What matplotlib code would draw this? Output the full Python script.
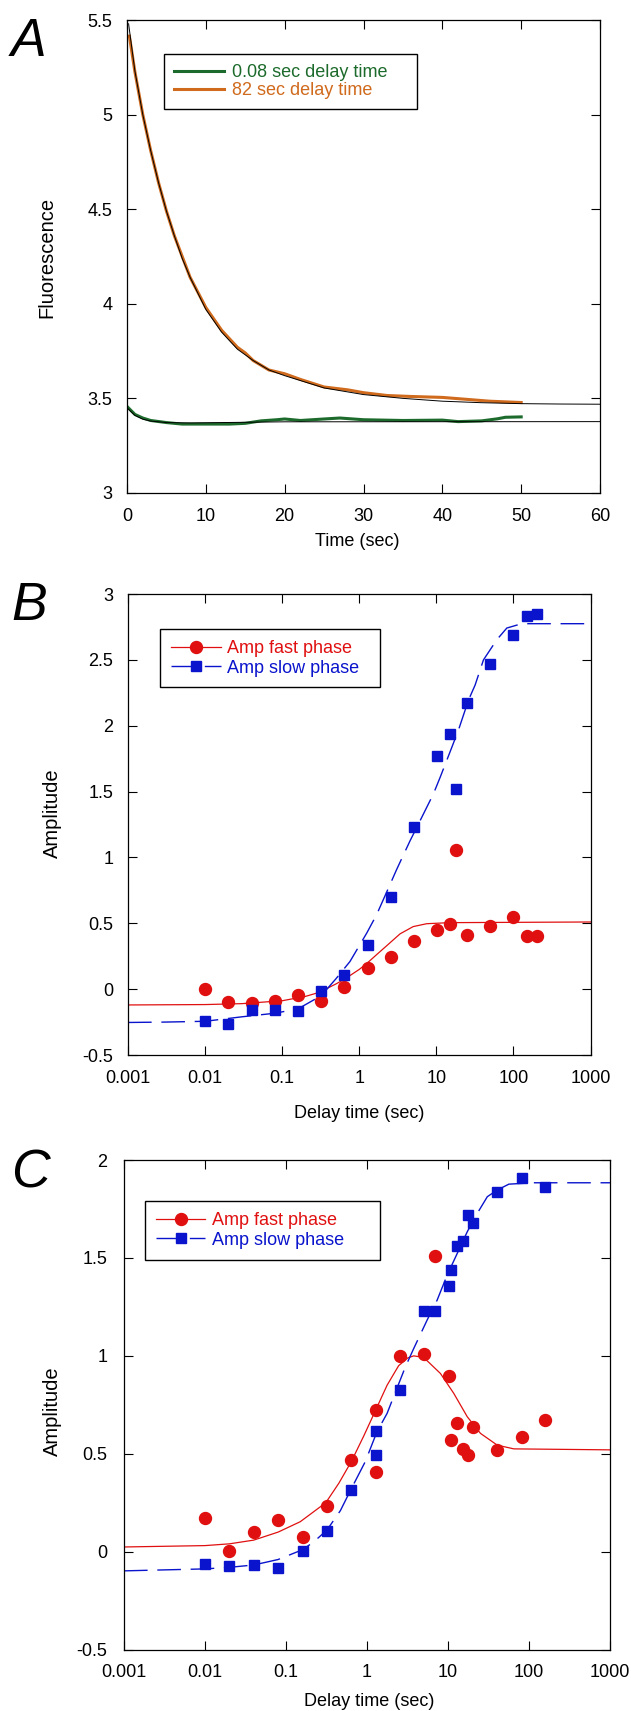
import matplotlib.pyplot as plt

plt.rcParams['font.family'] = ['Liberation Sans', 'DejaVu Sans']

# ---- Panel A: fluorescence traces ----
a_t_slow = [0.3, 1, 2, 3, 4, 5, 6, 7, 8, 10, 12, 14, 15, 16, 18, 20, 22, 25, 28,
            30, 33, 36, 40, 43, 46, 50]
a_f_slow = [5.415, 5.226, 5.0, 4.81, 4.64, 4.49, 4.36, 4.25, 4.14, 3.98, 3.86,
            3.77, 3.74, 3.70, 3.65, 3.63, 3.60, 3.56, 3.545, 3.53, 3.515, 3.51,
            3.505, 3.495, 3.485, 3.478]
a_fit_t_slow = [0.2, 1, 2, 3, 4, 5, 6, 7, 8, 10, 12, 14, 16, 18, 20, 25, 30, 35,
                40, 45, 50, 55, 60]
a_fit_f_slow = [5.48, 5.23, 5.0, 4.81, 4.64, 4.49, 4.36, 4.24, 4.14, 3.97, 3.85,
                3.76, 3.70, 3.65, 3.62, 3.555, 3.52, 3.50, 3.485, 3.477, 3.472,
                3.47, 3.469]
a_t_fast = [0, 1, 2, 3, 5, 7, 10, 13, 15, 17, 19, 20, 22, 25, 27, 30, 35, 40, 42,
            45, 47, 48, 50]
a_f_fast = [3.457, 3.415, 3.396, 3.383, 3.372, 3.364, 3.364, 3.364, 3.368, 3.381,
            3.387, 3.391, 3.383, 3.391, 3.396, 3.387, 3.383, 3.385, 3.377, 3.381,
            3.392, 3.400, 3.402]
a_fit_t_fast = [0, 1, 2, 3, 5, 8, 12, 20, 60]
a_fit_f_fast = [3.45, 3.41, 3.39, 3.38, 3.372, 3.37, 3.372, 3.376, 3.377]

# ---- Panel B: amplitudes vs delay time ----
b_delay = [0.01, 0.02, 0.04, 0.08, 0.16, 0.32, 0.64, 1.28, 2.56, 5.12, 10.2, 15,
           17.8, 25, 50, 100, 150, 200]
b_fast = [0.0, -0.10, -0.107, -0.093, -0.045, -0.09, 0.017, 0.163, 0.242, 0.369,
          0.45, 0.492, 1.06, 0.408, 0.476, 0.546, 0.40, 0.405]
b_slow = [-0.244, -0.267, -0.16, -0.157, -0.166, -0.017, 0.104, 0.332, 0.70,
          1.229, 1.771, 1.94, 1.518, 2.173, 2.466, 2.688, 2.837, 2.845]
b_fit_fast_x = [0.001, 0.01, 0.03, 0.1, 0.2, 0.3, 0.5, 0.64, 1, 1.25, 1.7, 2.27,
                3.38, 5, 7.5, 15, 1000]
b_fit_fast_y = [-0.12, -0.117, -0.11, -0.088, -0.055, -0.025, 0.04, 0.075, 0.15,
                0.195, 0.265, 0.33, 0.42, 0.475, 0.497, 0.505, 0.51]
b_fit_slow_x = [0.001, 0.003, 0.01, 0.03, 0.08, 0.16, 0.32, 0.5, 0.757, 1.25,
                1.68, 2.45, 3.06, 4.55, 5.84, 9.14, 11.2, 15.9, 19.3, 26.1, 31.8,
                40.8, 60.8, 82, 128, 1000]
b_fit_slow_y = [-0.253, -0.25, -0.244, -0.21, -0.183, -0.15, -0.05, 0.08, 0.21,
                0.426, 0.566, 0.782, 0.91, 1.126, 1.253, 1.482, 1.609, 1.838,
                1.966, 2.195, 2.309, 2.5, 2.653, 2.742, 2.775, 2.775]

# ---- Panel C: amplitudes vs delay time ----
c_delay = [0.01, 0.02, 0.04, 0.08, 0.16, 0.32, 0.64, 1.28, 1.28, 2.56, 5.1, 7.0,
           10.3, 11.0, 13.0, 15.2, 17.8, 20.4, 40.5, 82, 158]
c_fast = [0.173, 0.005, 0.10, 0.162, 0.074, 0.235, 0.469, 0.723, 0.405, 1.0,
          1.01, 1.508, 0.895, 0.570, 0.657, 0.523, 0.495, 0.637, 0.519, 0.588,
          0.671]
c_slow = [-0.061, -0.074, -0.066, -0.085, 0.005, 0.106, 0.317, 0.614, 0.495,
          0.826, 1.231, 1.231, 1.357, 1.437, 1.562, 1.585, 1.721, 1.68, 1.837,
          1.907, 1.86]
c_fit_fast_x = [0.001, 0.01, 0.02, 0.04, 0.08, 0.15, 0.31, 0.45, 0.64, 0.91,
                1.27, 1.77, 2.46, 3.2, 3.78, 4.5, 5.53, 8.07, 11.8, 17.3, 25.2,
                40.6, 65, 1000]
c_fit_fast_y = [0.024, 0.031, 0.04, 0.059, 0.1, 0.153, 0.25, 0.35, 0.46, 0.59,
                0.72, 0.85, 0.95, 0.99, 1.0, 0.995, 0.975, 0.91, 0.808, 0.689,
                0.604, 0.544, 0.525, 0.52]
c_fit_slow_x = [0.001, 0.01, 0.02, 0.04, 0.08, 0.16, 0.22, 0.32, 0.47, 0.62,
                0.95, 1.33, 1.77, 2.13, 2.98, 3.78, 5.53, 7.35, 9.78, 13, 17.3,
                23, 30.6, 40.6, 56.5, 115, 1000]
c_fit_slow_y = [-0.098, -0.088, -0.08, -0.068, -0.04, 0.01, 0.05, 0.11, 0.21,
                0.31, 0.459, 0.613, 0.706, 0.791, 0.944, 1.038, 1.183, 1.285,
                1.413, 1.523, 1.634, 1.728, 1.813, 1.847, 1.877, 1.884, 1.884]

log_ticks = [0.001, 0.01, 0.1, 1, 10, 100, 1000]
log_labels = ['0.001', '0.01', '0.1', '1', '10', '100', '1000']

GREEN = '#1d6b2c'
ORANGE = '#d06a1c'
RED = '#e01010'
BLUE = '#0a14cc'
FS = 13
YFS = 14.5

fig = plt.figure(figsize=(6.31, 17.11), dpi=100)
axA = fig.add_axes([0.2013, 0.7119, 0.7496, 0.2764])
axB = fig.add_axes([0.2029, 0.3834, 0.7330, 0.2694])
axC = fig.add_axes([0.1965, 0.0359, 0.7702, 0.2861])

for ax in (axA, axB, axC):
    ax.tick_params(direction='in', length=6.8, width=0.8, top=True, right=True,
                   labelsize=FS, pad=10.5, which='major')
    ax.tick_params(which='minor', length=0)
    for sp in ax.spines.values():
        sp.set_linewidth(0.9)

# Panel A
lg, = axA.plot(a_t_fast, a_f_fast, color=GREEN, lw=2.2)
lo, = axA.plot(a_t_slow, a_f_slow, color=ORANGE, lw=2.2)
axA.plot(a_fit_t_slow, a_fit_f_slow, color='black', lw=0.7)
axA.plot(a_fit_t_fast, a_fit_f_fast, color='black', lw=0.7)
axA.set_xlim(0, 60)
axA.set_ylim(3, 5.5)
axA.set_xticks([0, 10, 20, 30, 40, 50, 60])
axA.set_yticks([3, 3.5, 4, 4.5, 5, 5.5])
axA.set_yticklabels(['3', '3.5', '4', '4.5', '5', '5.5'])
axA.set_xlabel('Time (sec)', fontsize=FS, va='center')
axA.set_ylabel('Fluorescence', fontsize=YFS, va='center')
axA.xaxis.set_label_coords(0.487, -0.103)
axA.yaxis.set_label_coords(-0.170, 0.497)
legA = axA.legend([lg, lo], ['0.08 sec delay time', '82 sec delay time'],
                  loc='upper left', bbox_to_anchor=(0.0782, 0.928, 0.535, 0),
                  mode='expand', borderaxespad=0, fontsize=FS, fancybox=False,
                  framealpha=1, edgecolor='black', handlelength=2.8,
                  handletextpad=0.4, borderpad=0.55, labelspacing=0.05)
legA.get_frame().set_linewidth(1.0)
for txt, col in zip(legA.get_texts(), [GREEN, ORANGE]):
    txt.set_color(col)


def amp_panel(ax, delay, fast, slow, fx, fy, sx, sy, ymax, leg_box):
    ax.plot(fx, fy, color=RED, lw=0.9)
    ax.plot(sx, sy, color=BLUE, lw=1.0, linestyle=(0, (17, 7)))
    ax.plot(delay, fast, 'o', color=RED, ms=8.6, mec=RED)
    ax.plot(delay, slow, 's', color=BLUE, ms=7.4, mec=BLUE)
    # proxy handles combining line and marker for the legend
    hf, = ax.plot([], [], color=RED, lw=0.9, marker='o', ms=8.6)
    hs, = ax.plot([], [], color=BLUE, lw=1.0, linestyle=(0, (17, 7)),
                  marker='s', ms=7.4)
    ax.set_xscale('log')
    ax.set_xlim(0.001, 1000)
    ax.set_ylim(-0.5, ymax)
    ax.set_xticks(log_ticks)
    ax.set_xticklabels(log_labels)
    yt = [-0.5 + 0.5 * i for i in range(int((ymax + 0.5) / 0.5) + 1)]
    ax.set_yticks(yt)
    ax.set_yticklabels(['%g' % v for v in yt])
    ax.set_xlabel('Delay time (sec)', fontsize=FS, va='center')
    ax.set_ylabel('Amplitude', fontsize=YFS, va='center')
    leg = ax.legend([hf, hs], ['Amp fast phase', 'Amp slow phase'],
                    loc='upper left', bbox_to_anchor=leg_box, mode='expand',
                    borderaxespad=0, fontsize=FS, fancybox=False, framealpha=1,
                    edgecolor='black', handlelength=2.75, handletextpad=0.35,
                    borderpad=0.6, labelspacing=0.15, numpoints=1)
    leg.get_frame().set_linewidth(1.0)
    for txt, col in zip(leg.get_texts(), [RED, BLUE]):
        txt.set_color(col)


amp_panel(axB, b_delay, b_fast, b_slow, b_fit_fast_x, b_fit_fast_y,
          b_fit_slow_x, b_fit_slow_y, 3, (0.0692, 0.924, 0.476, 0))
axB.xaxis.set_label_coords(0.4995, -0.126)
axB.yaxis.set_label_coords(-0.163, 0.525)

amp_panel(axC, c_delay, c_fast, c_slow, c_fit_fast_x, c_fit_fast_y,
          c_fit_slow_x, c_fit_slow_y, 2, (0.0432, 0.916, 0.4835, 0))
axC.tick_params(axis='y', pad=12)
axC.xaxis.set_label_coords(0.5035, -0.107)
axC.yaxis.set_label_coords(-0.147, 0.487)

# panel letters
for letter, base in (('A', 56), ('B', 620), ('C', 1188)):
    fig.text(11 / 631, 1 - base / 1711, letter, fontsize=38.5, fontstyle='italic',
             ha='left', va='baseline')

fig.savefig('out.png', dpi=100)
